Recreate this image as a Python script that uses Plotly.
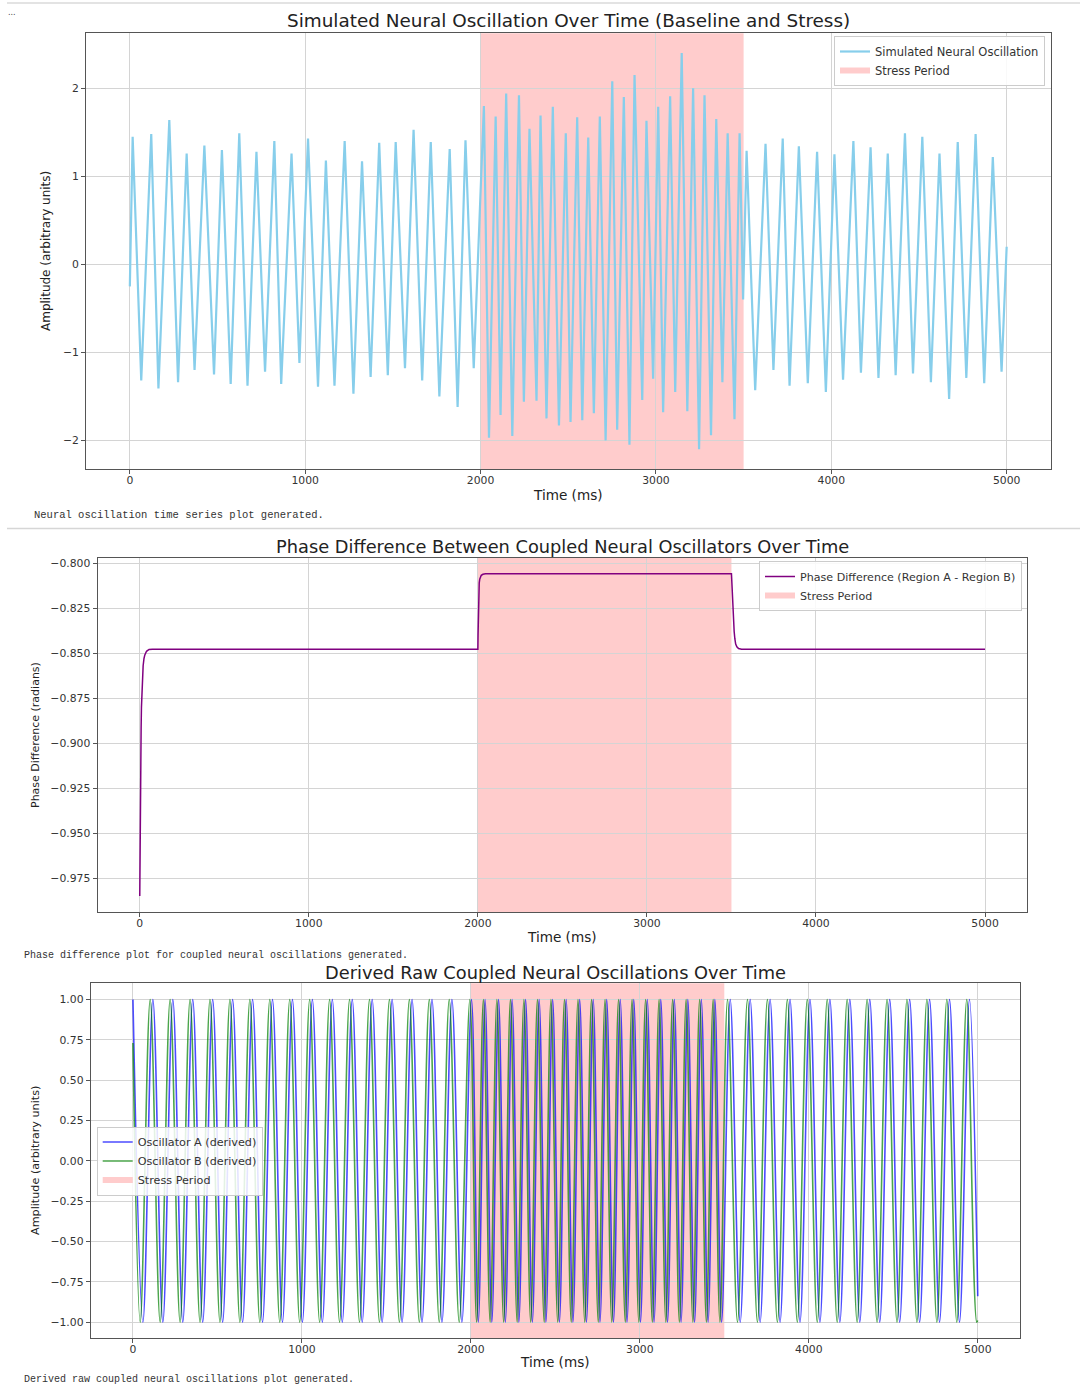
import plotly.graph_objects as go

W, H = 1080, 1387

# ---------------- shared ----------------
stress_start_ms = 2000
stress_end_ms = 3500
time_ticks = [0, 1000, 2000, 3000, 4000, 5000]
time_tick_text = ["0", "1000", "2000", "3000", "4000", "5000"]

# ---------------- chart 1: simulated oscillation (cycle extrema) ----------------
osc_peak_ms = [16, 122, 225, 324, 425, 525, 624, 722, 824, 922, 1016, 1118, 1225, 1324, 1422, 1516, 1618, 1716, 1824, 1914,
               2019, 2086, 2146, 2219, 2279, 2342, 2412, 2486, 2551, 2614, 2680, 2751, 2817, 2878, 2946, 3013, 3081, 3147,
               3212, 3277, 3344, 3409, 3477,
               3517, 3625, 3723, 3815, 3919, 4018, 4126, 4224, 4322, 4420, 4519, 4617, 4721, 4823, 4921]
osc_peak_amp = [1.45, 1.48, 1.64, 1.26, 1.35, 1.30, 1.49, 1.28, 1.40, 1.26, 1.43, 1.18, 1.40, 1.17, 1.38, 1.39, 1.53, 1.39, 1.31, 1.41,
                1.80, 1.68, 1.94, 1.92, 1.54, 1.69, 1.79, 1.49, 1.67, 1.44, 1.68, 2.08, 1.90, 2.15, 1.63, 1.79, 1.91, 2.40,
                2.00, 1.92, 1.65, 1.49, 1.49,
                1.29, 1.37, 1.43, 1.34, 1.28, 1.25, 1.40, 1.33, 1.26, 1.49, 1.45, 1.26, 1.39, 1.48, 1.22]
osc_trough_ms = [65, 163, 275, 369, 480, 575, 671, 771, 863, 967, 1073, 1167, 1275, 1373, 1471, 1569, 1667, 1765, 1869, 1961,
                 2048, 2114, 2181, 2247, 2319, 2376, 2447, 2513, 2580, 2646, 2713, 2779, 2849, 2922, 2984, 3041, 3110, 3179,
                 3246, 3314, 3379, 3448, 3497,
                 3566, 3670, 3762, 3866, 3969, 4067, 4169, 4269, 4367, 4466, 4568, 4672, 4770, 4872, 4971]
osc_trough_amp = [-1.32, -1.41, -1.34, -1.20, -1.25, -1.36, -1.38, -1.22, -1.36, -1.12, -1.39, -1.38, -1.47, -1.28, -1.26, -1.18,
                  -1.32, -1.50, -1.62, -1.18,
                  -1.97, -1.71, -1.95, -1.56, -1.55, -1.75, -1.83, -1.79, -1.77, -1.69, -2.00, -1.88, -2.05, -1.54, -1.30,
                  -1.68, -1.45, -1.67, -2.10, -1.94, -1.34, -1.76, -0.40,
                  -1.43, -1.20, -1.38, -1.35, -1.45, -1.31, -1.23, -1.29, -1.26, -1.24, -1.34, -1.53, -1.29, -1.35, -1.22]
osc_edge_ms = [0, 5000]
osc_edge_amp = [-0.25, 0.20]

# ---------------- chart 2: phase difference ----------------
phase_ms = [0, 1, 2, 4, 6, 8, 10, 13, 16, 20, 25, 30, 40, 55, 75, 100,
            2000, 2001, 2002, 2004, 2006, 2008, 2011, 2015, 2020, 2030, 2045,
            3500, 3502, 3504, 3507, 3510, 3513, 3516, 3520, 3525, 3532, 3542, 3560, 5000]
phase_rad = [-0.985, -0.965, -0.950, -0.928, -0.908, -0.892, -0.880, -0.869, -0.862, -0.857, -0.853, -0.851, -0.849,
             -0.848, -0.8478, -0.8478,
             -0.8478, -0.840, -0.832, -0.822, -0.815, -0.811, -0.809, -0.8075, -0.8068, -0.8062, -0.8059,
             -0.8059, -0.811, -0.816, -0.823, -0.829, -0.834, -0.838, -0.842, -0.845, -0.8465, -0.8475, -0.8478, -0.8478]

# ---------------- chart 3: derived oscillators (extrema times) ----------------
osc_level_peak = 1.0
osc_level_trough = -1.0
osc_a_peak_ms = [0, 118, 236, 354, 472, 590, 708, 826, 944, 1062, 1180, 1298, 1416, 1534, 1652, 1770, 1888,
                 2004, 2084, 2164, 2244, 2324, 2404, 2484, 2564, 2644, 2724, 2804, 2884, 2964, 3044, 3124, 3204, 3284, 3364, 3444,
                 3535, 3653, 3771, 3889, 4007, 4125, 4243, 4361, 4479, 4597, 4715, 4833, 4951]
osc_a_trough_ms = [59, 177, 295, 413, 531, 649, 767, 885, 1003, 1121, 1239, 1357, 1475, 1593, 1711, 1829, 1947,
                   2044, 2124, 2204, 2284, 2364, 2444, 2524, 2604, 2684, 2764, 2844, 2924, 3004, 3084, 3164, 3244, 3324, 3404, 3484,
                   3594, 3712, 3830, 3948, 4066, 4184, 4302, 4420, 4538, 4656, 4774, 4892]
osc_a_edge_ms = [5000]
osc_a_edge_amp = [-0.84]
osc_b_peak_ms = [102, 220, 338, 456, 574, 692, 810, 928, 1046, 1164, 1282, 1400, 1518, 1636, 1754, 1872,
                 1994, 2074, 2154, 2234, 2314, 2394, 2474, 2554, 2634, 2714, 2794, 2874, 2954, 3034, 3114, 3194, 3274, 3354, 3434,
                 3519, 3637, 3755, 3873, 3991, 4109, 4227, 4345, 4463, 4581, 4699, 4817, 4935]
osc_b_trough_ms = [43, 161, 279, 397, 515, 633, 751, 869, 987, 1105, 1223, 1341, 1459, 1577, 1695, 1813, 1931,
                   2034, 2114, 2194, 2274, 2354, 2434, 2514, 2594, 2674, 2754, 2834, 2914, 2994, 3074, 3154, 3234, 3314, 3394, 3474,
                   3578, 3696, 3814, 3932, 4050, 4168, 4286, 4404, 4522, 4640, 4758, 4876, 4994]
osc_b_edge_ms = [0, 5000]
osc_b_edge_amp = [0.73, -0.99]

amp1_ticks = [-2, -1, 0, 1, 2]
amp1_tick_text = ["\u22122", "\u22121", "0", "1", "2"]
phase_ticks = [-0.975, -0.950, -0.925, -0.900, -0.875, -0.850, -0.825, -0.800]
phase_tick_text = ["\u22120.975", "\u22120.950", "\u22120.925", "\u22120.900", "\u22120.875", "\u22120.850", "\u22120.825", "\u22120.800"]
amp3_ticks = [-1.0, -0.75, -0.5, -0.25, 0.0, 0.25, 0.5, 0.75, 1.0]
amp3_tick_text = ["\u22121.00", "\u22120.75", "\u22120.50", "\u22120.25", "0.00", "0.25", "0.50", "0.75", "1.00"]


def merge(*pairs):
    pts = []
    for ts, vs in pairs:
        pts.extend(zip(ts, vs))
    pts.sort(key=lambda p: p[0])
    return [p[0] for p in pts], [p[1] for p in pts]


osc_t, osc_v = merge((osc_peak_ms, osc_peak_amp), (osc_trough_ms, osc_trough_amp), (osc_edge_ms, osc_edge_amp))
a_t, a_v = merge((osc_a_peak_ms, [osc_level_peak] * len(osc_a_peak_ms)),
                 (osc_a_trough_ms, [osc_level_trough] * len(osc_a_trough_ms)),
                 (osc_a_edge_ms, osc_a_edge_amp))
b_t, b_v = merge((osc_b_peak_ms, [osc_level_peak] * len(osc_b_peak_ms)),
                 (osc_b_trough_ms, [osc_level_trough] * len(osc_b_trough_ms)),
                 (osc_b_edge_ms, osc_b_edge_amp))

STRESS_FILL = "rgba(255,0,0,0.2)"
FONT = "DejaVu Sans"
MONO = "Liberation Mono, DejaVu Sans Mono, monospace"


def fx(px):
    return px / W


def fy(py):
    return 1 - py / H


fig = go.Figure()

# chart 1
fig.add_trace(go.Scatter(x=osc_t, y=osc_v, mode="lines", line=dict(color="skyblue", width=2.2),
                         name="Simulated Neural Oscillation", xaxis="x", yaxis="y", legend="legend"))
fig.add_trace(go.Scatter(x=[None], y=[None], mode="none", fill="toself", fillcolor=STRESS_FILL,
                         name="Stress Period", xaxis="x", yaxis="y", legend="legend"))
# chart 2
fig.add_trace(go.Scatter(x=phase_ms, y=phase_rad, mode="lines", line=dict(color="purple", width=1.5),
                         name="Phase Difference (Region A - Region B)", xaxis="x2", yaxis="y2", legend="legend2"))
fig.add_trace(go.Scatter(x=[None], y=[None], mode="none", fill="toself", fillcolor=STRESS_FILL,
                         name="Stress Period", xaxis="x2", yaxis="y2", legend="legend2"))
# chart 3
fig.add_trace(go.Scatter(x=a_t, y=a_v, mode="lines", line=dict(color="rgba(0,0,255,0.7)", width=1.6, shape="spline"),
                         name="Oscillator A (derived)", xaxis="x3", yaxis="y3", legend="legend3"))
fig.add_trace(go.Scatter(x=b_t, y=b_v, mode="lines", line=dict(color="rgba(0,128,0,0.7)", width=1.6, shape="spline"),
                         name="Oscillator B (derived)", xaxis="x3", yaxis="y3", legend="legend3"))
fig.add_trace(go.Scatter(x=[None], y=[None], mode="none", fill="toself", fillcolor=STRESS_FILL,
                         name="Stress Period", xaxis="x3", yaxis="y3", legend="legend3"))

axis_style = dict(showline=True, mirror=True, linecolor="#555555", linewidth=1, showgrid=True,
                  gridcolor="#d4d4d4", gridwidth=1, zeroline=False, ticks="outside", ticklen=4,
                  tickcolor="#555555", tickfont=dict(family=FONT, size=10.8, color="#333333"), tickmode="array")
xaxis_style = dict(axis_style, ticklabelstandoff=-3)

fig.update_layout(
    width=W, height=H, margin=dict(l=0, r=0, t=0, b=0), autosize=False,
    paper_bgcolor="white", plot_bgcolor="white", showlegend=True,
    xaxis=dict(domain=[fx(86), fx(1050.5)], anchor="y", range=[-250, 5250],
               tickvals=time_ticks, ticktext=time_tick_text, **xaxis_style),
    yaxis=dict(domain=[fy(469), fy(33.3)], anchor="x", range=[-2.325, 2.625],
               tickvals=amp1_ticks, ticktext=amp1_tick_text, **axis_style),
    xaxis2=dict(domain=[fx(97.5), fx(1027.3)], anchor="y2", range=[-250, 5250],
                tickvals=time_ticks, ticktext=time_tick_text, **xaxis_style),
    yaxis2=dict(domain=[fy(912.3), fy(557.7)], anchor="x2", range=[-0.994, -0.797],
                tickvals=phase_ticks, ticktext=phase_tick_text, **axis_style),
    xaxis3=dict(domain=[fx(90.7), fx(1020)], anchor="y3", range=[-250, 5250],
                tickvals=time_ticks, ticktext=time_tick_text, **xaxis_style),
    yaxis3=dict(domain=[fy(1338.3), fy(983.3)], anchor="x3", range=[-1.1, 1.1],
                tickvals=amp3_ticks, ticktext=amp3_tick_text, **axis_style),
)

legend_style = dict(bgcolor="rgba(255,255,255,0.85)", bordercolor="#cccccc", borderwidth=1, itemwidth=30)
fig.update_layout(
    legend=dict(x=fx(1045), xanchor="right", y=fy(36), yanchor="top",
                font=dict(family=FONT, size=11.5, color="#333333"), **legend_style),
    legend2=dict(x=fx(1022), xanchor="right", y=fy(561), yanchor="top",
                 font=dict(family=FONT, size=11.1, color="#333333"), **legend_style),
    legend3=dict(x=fx(96.7), xanchor="left", y=fy(1161), yanchor="middle",
                 font=dict(family=FONT, size=11.2, color="#333333"), **legend_style),
)

# stress spans
for xr, yr in [("x", "y domain"), ("x2", "y2 domain"), ("x3", "y3 domain")]:
    fig.add_shape(type="rect", xref=xr, yref=yr, x0=stress_start_ms, x1=stress_end_ms, y0=0, y1=1,
                  fillcolor=STRESS_FILL, line=dict(width=0), layer="below")

# notebook separators
fig.add_shape(type="line", xref="paper", yref="paper", x0=fx(7), x1=1, y0=fy(3), y1=fy(3),
              line=dict(color="#e3e3e3", width=2))
fig.add_shape(type="line", xref="paper", yref="paper", x0=fx(7), x1=1, y0=fy(528.5), y1=fy(528.5),
              line=dict(color="#d6d6d6", width=1.5))

annotations = [
    # titles
    dict(x=fx(568), y=fy(21), text="Simulated Neural Oscillation Over Time (Baseline and Stress)",
         font=dict(family=FONT, size=18.4, color="#222222")),
    dict(x=fx(562), y=fy(546), text="Phase Difference Between Coupled Neural Oscillators Over Time",
         font=dict(family=FONT, size=17.8, color="#222222")),
    dict(x=fx(555), y=fy(972), text="Derived Raw Coupled Neural Oscillations Over Time",
         font=dict(family=FONT, size=17.8, color="#222222")),
    # x titles
    dict(x=fx(568), y=fy(495), text="Time (ms)", font=dict(family=FONT, size=13.6, color="#222222")),
    dict(x=fx(562), y=fy(937), text="Time (ms)", font=dict(family=FONT, size=13.6, color="#222222")),
    dict(x=fx(555), y=fy(1362), text="Time (ms)", font=dict(family=FONT, size=13.6, color="#222222")),
    # y titles
    dict(x=fx(46), y=fy(251), text="Amplitude (arbitrary units)", textangle=-90,
         font=dict(family=FONT, size=12, color="#222222")),
    dict(x=fx(35), y=fy(735), text="Phase Difference (radians)", textangle=-90,
         font=dict(family=FONT, size=11, color="#222222")),
    dict(x=fx(35), y=fy(1161), text="Amplitude (arbitrary units)", textangle=-90,
         font=dict(family=FONT, size=11.2, color="#222222")),
    # notebook outputs
    dict(x=fx(12), y=fy(13), text="...", font=dict(family=FONT, size=8, color="#444444")),
    dict(x=fx(32), y=fy(515), text="Neural oscillation time series plot generated.", xanchor="left",
         font=dict(family=MONO, size=10.5, color="#333333")),
    dict(x=fx(22), y=fy(955), text="Phase difference plot for coupled neural oscillations generated.", xanchor="left",
         font=dict(family=MONO, size=10, color="#333333")),
    dict(x=fx(22), y=fy(1379), text="Derived raw coupled neural oscillations plot generated.", xanchor="left",
         font=dict(family=MONO, size=10, color="#333333")),
]
for a in annotations:
    a.setdefault("xanchor", "center")
    a.update(xref="paper", yref="paper", yanchor="middle", showarrow=False)
fig.update_layout(annotations=annotations)

fig.write_html("out.html")
